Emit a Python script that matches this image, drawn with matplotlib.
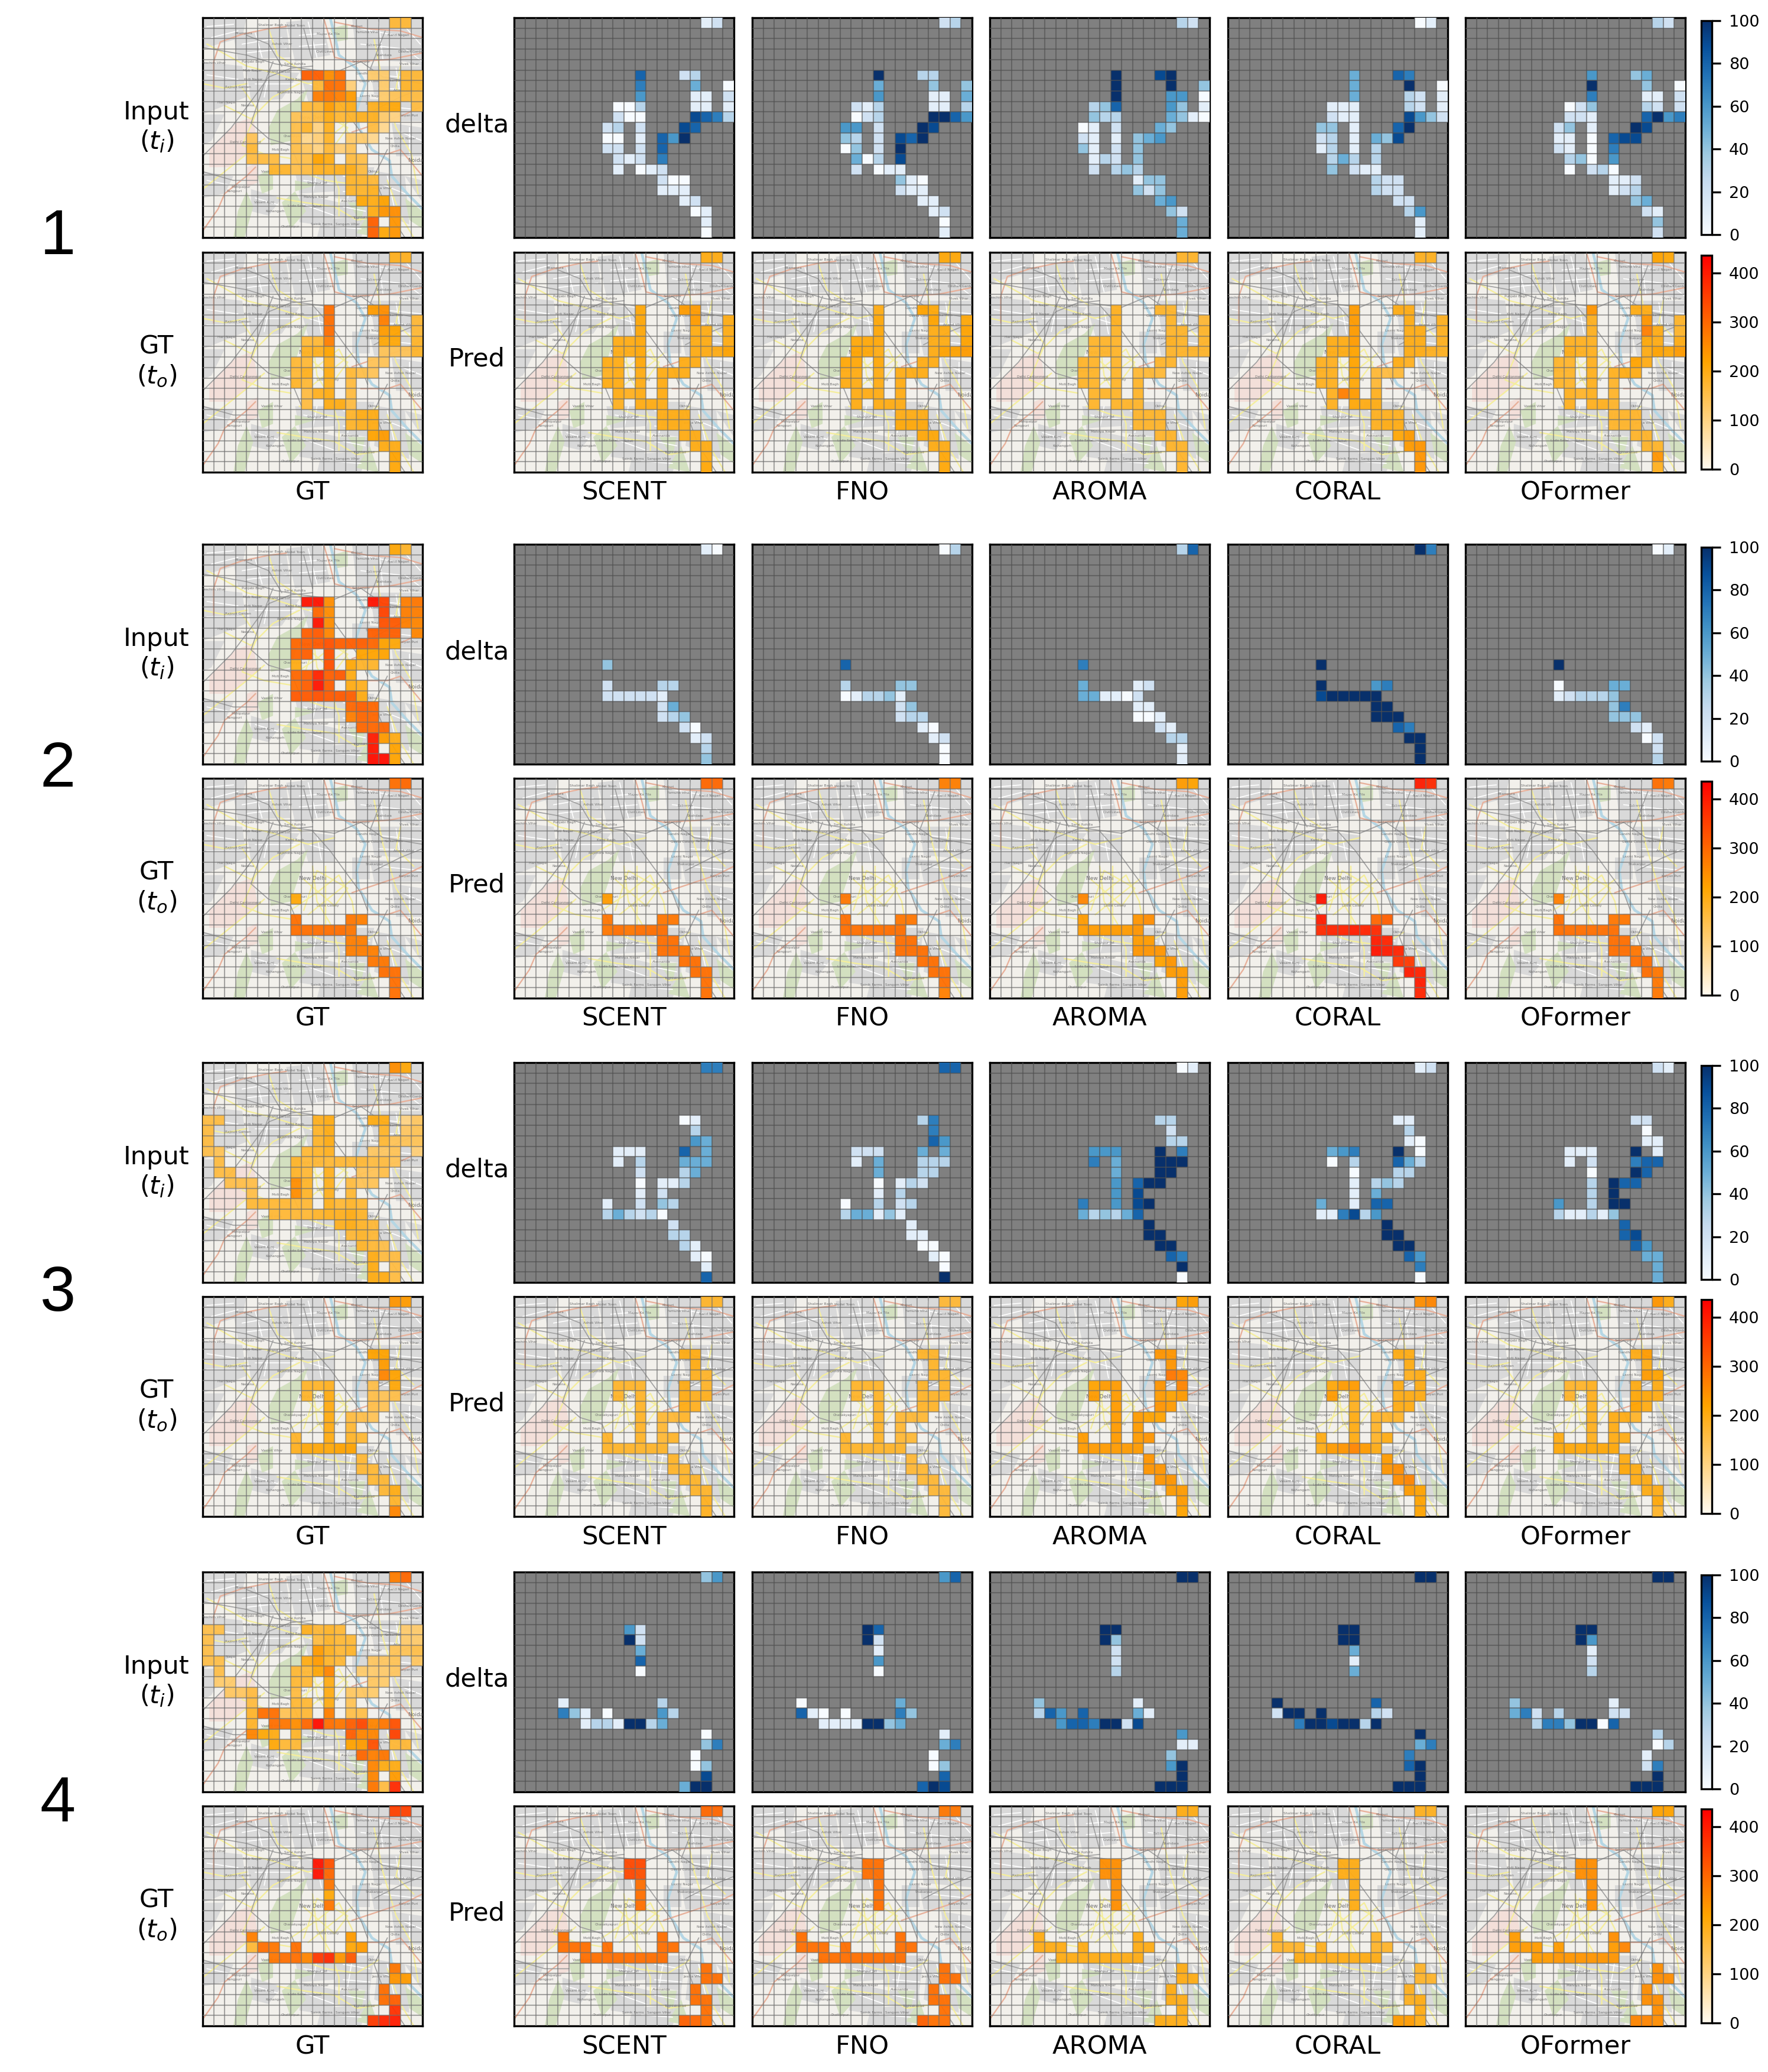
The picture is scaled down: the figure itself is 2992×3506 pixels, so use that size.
import numpy as np
import matplotlib
matplotlib.use("Agg")
import matplotlib.pyplot as plt
from matplotlib.colors import LinearSegmentedColormap, Normalize
from matplotlib.cm import ScalarMappable
from matplotlib.patches import Polygon

W, H = 2992, 3506
NROW, NCOL = 21, 20
METHODS = ["SCENT", "FNO", "AROMA", "CORAL", "OFormer"]

# cell codes: index in this string * 10 = traffic value
CODES = "0123456789abcdefghijklmnopqrstuvwxyzABCDEFGH"

# group 1
G1_INPUT = ["0 17:hh", "5 9:vvpt 15:cc 18:hh", "6 10:httb 16:c 18:ii", "7 10:rsrn 16:cegg",
            "8 9:hhnjk 15:jkl 19:g", "9 8:efgkhijjca", "10 8:fiaj 15:g9", "11 4:e 8:f9bi 13:cc9",
            "12 4:h 8:fdahbe", "13 4:ggg 8:ffmk 13:gf", "14 6:ii 8:fgjjjkg", "15 13:iih",
            "16 13:iij", "17 14:lkm", "18 15:kop", "19 15:v 17:o", "20 15:vlo"]
G1_GT = ["0 17:jj", "5 11:t 15:np", "6 11:t 16:r 19:h", "7 11:t 16:nm 19:h", "8 9:hhr 16:ll 19:i",
         "9 9:jjm 16:eeei", "10 8:hh 11:j 15:ee", "11 8:hj 11:k 13:hfe", "12 8:ih 11:j 13:g",
         "13 9:gjk 13:g", "14 9:g 11:kkg", "15 13:ikk", "16 13:ijk", "17 15:mn", "18 16:kk",
         "19 17:m", "20 17:l"]
G1_DELTA = ["12 823 750 6112 003111 2009873 23298 00186a 2228 2127 1012 200 111 12 01 1 0",
            "23 a33 544 6115 213113 023aa86 662a9 43298a 042a 5039 2011 410 211 11 12 0 1",
            "32 a9a aa4 a660 348641 4335410 01254 211456 4124 1324 2343 144 424 56 42 5 5",
            "01 587 5a0 5321 111321 2119642 4418a 231549 1313 3533 4211 322 322 22 36 1 1",
            "32 645 a40 7112 024322 2218a67 241a9 110899 2107 3406 0230 112 123 45 21 4 2"]
G1_PRED = ["kk lnn lnk lkkk kklkkk kklkkkm kklkk jkkkkk kkkk kjkk jkkk kkk kkk kk kk k l",
           "ll kml lml lkkm lllkkm mlkkmmn lllkk kkkkkk kkkk kkkk kkkk kkk lll ll kk l l",
           "ii jii jih iiii iiijii iiiiiii iiiii iiihhh iiii iiii iiii iii iii ii ii i i",
           "jj nkk nkj nkkj kknkkj kkmkkjj jjmkj jjmhgh jjlh jrnj jlkk jjj jkk ln no o o",
           "ml okk joi jrki jjjlkk kjjkmln iijmk iijjkk iiji jiji jjji iii iii ii ii o j"]

# group 2
G2_INPUT = ["0 17:li", "5 9:FFp 15:Fz 18:rs", "6 10:up 16:z 18:rr", "7 10:Fp 16:xw 18:rq",
            "8 9:vwq 15:vvv 19:q", "9 8:uvwxvvvuml", "10 8:uv 11:x 14:mmm", "11 8:k 11:x 13:lii",
            "12 8:uvDvwk", "13 8:tvFv 13:kj", "14 8:wwxwwvk", "15 13:uvu", "16 13:ruu",
            "17 14:uuu", "18 15:Enk", "19 15:F 17:m", "20 15:GGm"]
G2_GT = ["0 17:tu", "11 8:l", "13 8:t 13:sr", "14 8:ttttts", "15 13:rr", "16 13:rrr", "17 15:ss",
         "18 16:tt", "19 17:t", "20 17:t"]
G2_DELTA = ["10 4 233 222221 25 234 20 12 3 4",
            "03 8 344 013341 24 233 10 12 0 0",
            "38 7 512 551102 11 001 21 33 1 1",
            "a7 a a67 9aaaaa aa aaa 87 aa a a",
            "01 a 055 123334 47 444 21 02 2 3"]
G2_PRED = ["uu n sss ststtt tt tts tt tt t t",
           "rr s tss tttttt tt ttt tt tt t r",
           "nm q nop nnnnno nn ooo mo nn n n",
           "EC F Euv CDDEDC ED FED BA ED E D",
           "ts r tss tttttt tt tts tt ts s s"]

# group 3
G3_INPUT = ["0 17:pl", "5 0:gg 10:jk 15:kk 18:ad", "6 0:g 10:ik 16:i 18:de", "7 0:g 10:ik 16:heee",
            "8 0:fe 9:hij 15:dde 19:b", "9 1:g 8:ihhhhhhgge", "10 1:gg 8:ih 11:j 14:eef",
            "11 2:fff 8:pi 11:j 13:gee", "12 4:f 8:pi 11:j 13:h", "13 4:hhhhhh 11:jhih",
            "14 6:hhhhijjki", "15 12:jkih", "16 13:hih", "17 14:ihf", "18 15:kgg", "19 15:k 17:g",
            "20 15:kkg"]
G3_GT = ["0 17:on", "5 15:mm", "6 16:n", "7 16:qm", "8 9:iij 15:f 17:l", "9 9:i 11:k 15:fef",
         "10 11:k 15:fe", "11 11:k 13:gfe", "12 11:k 13:h", "13 8:i 11:k 13:ih", "14 8:jlllmm",
         "15 14:h", "16 14:hh", "17 15:hh", "18 16:hk", "19 17:i", "20 17:q"]
G3_DELTA = ["77 01 3 65 11185 13555 235 0113 12 1243 353230 2 33 31 10 1 8",
            "88 37 7 86 22255 15333 533 0132 13 0323 355141 1 11 00 10 0 a",
            "01 33 2 33 666a7 75aaa 5aa 68aa 69 769a 534358 a aa aa 87 a 0",
            "12 11 3 10 567a0 03853 033 1343 15 5188 117936 a aa aa 86 7 0",
            "21 22 0 11 111a1 12788 0a8 3a88 3a 63aa 311314 8 89 86 55 5 5"]
G3_PRED = ["ii kk k ji iiiki iikjj ikj ihhi ih iihi iiiiii i ii ii ii j j",
           "hh ii i ii iiiii iiiii iii ihhh ih iihh iiiiii h hh hh hh h h",
           "mn oo o sq mnnoq nnnmn non nnmm nn nnno nnnnnn o oo oo nn n m",
           "pq kk k jk lnnkk nkkkk jkk kiii ki kkik knoqnk n op pq nm m m",
           "ok kn k nm iijkk ijllk jmk jkki jk kjkk llllll k lk kk kk l i"]

# group 4
G4_INPUT = ["0 17:ru", "5 0:ff 9:jhih 18:cc", "6 0:f 10:gihh 18:cc", "7 0:f 10:njhi 17:eef",
            "8 0:ff 9:knih 15:dde 19:d", "9 1:f 8:hhlq 14:cccd", "10 1:cc 8:hh 11:k 15:dc",
            "11 2:ddg 8:g 11:k 13:ddc", "12 4:g 8:hh 11:k 13:e", "13 4:ittehh 11:r 13:ff",
            "14 4:i 6:tspuGtsvyqsx", "15 4:qlk 8:i 13:vqq 17:z", "16 6:lhh 13:mnx 17:hh",
            "17 14:urs", "18 15:qkk", "19 15:q 17:n", "20 15:sgC"]
G4_GT = ["0 17:zz", "5 10:Fx", "6 10:Fu", "7 11:s", "8 11:l", "9 11:s", "12 4:r 13:n",
         "13 4:hts 8:t 13:ln", "14 6:sttqACow", "15 17:s", "16 17:on", "17 16:t", "18 16:tv",
         "19 17:B", "20 15:ADE"]
G4_DELTA = ["46 62 a2 5 8 0 13 741063 1331aa35 0 47 0 04 9 5aa",
            "68 a8 a2 1 6 0 05 810074 1111aa45 1 57 0 04 8 8a9",
            "aa aa a4 2 2 3 41 386851 6887aa29 6 11 4 6a a aaa",
            "aa aa aa 5 1 5 a8 2aaa32 7aa9aa3a a 57 7 8a a aaa",
            "aa aa a6 1 2 3 41 572322 3774aa08 3 03 1 27 a aaa"]
G4_PRED = ["uu yy yx t t t tt tttttt tttttttt t tt t tt t vut",
           "ss tt tt t t t tt tttttt tttttttt t tt t tt t vtt",
           "kk pp pp p p p kk kkkkkk kkkkkkkk k kk k kk k kkk",
           "jj kk kk k k k ii iiijii kkkkkkkk i ii j jk k nnk",
           "mm pp pp p p p np nnnnnq nnoooooo p pp p pp p qqp"]

GROUPS = [(G1_INPUT, G1_GT, G1_DELTA, G1_PRED), (G2_INPUT, G2_GT, G2_DELTA, G2_PRED),
          (G3_INPUT, G3_GT, G3_DELTA, G3_PRED), (G4_INPUT, G4_GT, G4_DELTA, G4_PRED)]

# background map, fractions of the panel, y from the top
URBAN = [[(0, 0), (.2, 0), (.18, .09), (0, .14)], [(.14, .08), (.38, .04), (.4, .18), (.16, .19)],
         [(.38, .02), (.54, .0), (.58, .17), (.42, .2)], [(.68, 0), (.88, 0), (.92, .2), (.7, .19)],
         [(.88, 0), (1, 0), (1, .22), (.92, .2)], [(.76, .22), (1, .22), (1, .37), (.78, .35)],
         [(0, .2), (.18, .22), (.2, .36), (0, .44)], [(.2, .24), (.44, .25), (.36, .37), (.22, .38)],
         [(.44, .24), (.6, .26), (.6, .38), (.48, .38)], [(.76, .37), (1, .38), (1, .47), (.78, .47)],
         [(.86, .48), (1, .5), (1, .63), (.88, .63)], [(.42, .7), (.62, .7), (.6, .79), (.44, .8)],
         [(.62, .68), (.78, .68), (.76, .84), (.6, .82)], [(.8, .7), (.92, .72), (.94, .94), (.78, .88)],
         [(.44, .8), (.62, .84), (.58, .95), (.44, .93)], [(.54, .92), (.76, .9), (.72, 1), (.52, 1)],
         [(0, .7), (.14, .72), (.1, .8), (0, .82)], [(.68, .36), (.76, .36), (.76, .46), (.68, .46)],
         [(.62, .84), (.76, .84), (.76, .92), (.6, .9)], [(.0, .44), (.1, .44), (.04, .56), (0, .58)],
         [(.22, .78), (.36, .82), (.3, .9), (.22, .88)], [(.92, .72), (1, .74), (1, .84)]]
GREEN = [[(.3, .5), (.34, .42), (.43, .37), (.48, .32), (.44, .44), (.4, .56), (.31, .58)],
         [(.14, 1), (.16, .88), (.2, .79), (.23, .86), (.19, 1)],
         [(.36, .84), (.42, .79), (.47, .88), (.4, .96)], [(.25, .72), (.32, .68), (.32, .78), (.27, .8)],
         [(.58, .05), (.66, .03), (.66, .1), (.6, .11)], [(.7, .98), (.76, .88), (.8, 1)],
         [(.42, .74), (.52, .76), (.42, .79)], [(.66, .84), (.74, .84), (.72, .93)],
         [(.92, .82), (1, .88), (1, .96), (.94, .92)]]
PINK = [[(.03, .6), (.15, .48), (.23, .45), (.25, .58), (.12, .68), (.03, .68)],
        [(.2, .68), (.25, .66), (.25, .75), (.2, .77)]]
RIVER = [(.58, 0), (.6, .08), (.62, .17), (.7, .23), (.74, .3), (.7, .42), (.71, .5), (.77, .6),
         (.85, .65), (.86, .72), (.93, .8), (1, .87)]
ORANGE_ROADS = [[(.05, .32), (.05, .2), (.08, .11), (.18, .075), (.3, .05), (.38, .04)],
                [(0, .97), (.07, .87), (.1, .8), (.2, .72), (.24, .68)],
                [(.68, .52), (.8, .48), (.92, .44), (1, .4)],
                [(.55, 0), (.58, .1), (.6, .18), (.68, .2), (.85, .19), (1, .16)],
                [(.6, .02), (.75, .05), (.9, .06), (1, .09)],
                [(.72, .62), (.84, .62), (.9, .6), (1, .72)]]
YELLOW_ROADS = [[(.02, .12), (.2, .22), (.32, .25), (.48, .3), (.6, .27)],
                [(.18, .32), (.25, .42), (.18, .58), (.28, .62), (.4, .64)],
                [(.4, .6), (.52, .52), (.62, .44), (.68, .56), (.7, .68)],
                [(.44, .7), (.56, .74), (.7, .76), (.8, .7)],
                [(.34, .82), (.46, .84), (.6, .86), (.7, .92), (.84, .9)],
                [(.5, .4), (.52, .56), (.58, .66), (.62, .78), (.62, .9)],
                [(.78, .1), (.82, .3), (.88, .5), (.95, .62), (.98, .8)],
                [(0, .78), (.1, .7), (.2, .62), (.28, .55)],
                [(.9, .22), (.88, .32), (.96, .4)], [(.3, .05), (.34, .17), (.45, .24)],
                [(.46, .46), (.6, .58), (.66, .5), (.52, .42), (.46, .6)], [(.56, .4), (.56, .68)],
                [(.48, .62), (.68, .46)], [(.1, .4), (.22, .46), (.32, .36), (.44, .3)],
                [(0, .3), (.1, .32), (.2, .3)], [(.84, .74), (.9, .9), (.96, 1)]]
WHITE_ROADS = [[(.02, .04), (.14, .03)], [(.04, .09), (.16, .06)], [(.18, .12), (.36, .09)], [(.2, .16), (.38, .14)],
               [(.24, .07), (.27, .18)], [(.44, .08), (.56, .07)], [(.44, .13), (.56, .12)], [(.48, .02), (.52, .18)],
               [(.72, .05), (.88, .08)], [(.72, .12), (.9, .14)], [(.8, .02), (.82, .19)], [(.92, .04), (.99, .12)],
               [(.92, .14), (1, .2)], [(.8, .26), (1, .28)], [(.8, .32), (1, .33)], [(.88, .23), (.9, .36)],
               [(.02, .26), (.16, .28)], [(.02, .33), (.18, .33)], [(.1, .22), (.1, .4)], [(.24, .3), (.42, .3)],
               [(.3, .26), (.28, .36)], [(.48, .3), (.58, .33)], [(.52, .26), (.54, .37)], [(.8, .4), (1, .42)],
               [(.9, .52), (1, .56)], [(.94, .5), (.94, .62)], [(.46, .74), (.6, .76)], [(.52, .7), (.5, .8)],
               [(.64, .72), (.76, .74)], [(.68, .7), (.66, .82)], [(.64, .79), (.76, .8)], [(.82, .76), (.92, .8)],
               [(.84, .72), (.88, .9)], [(.46, .85), (.6, .9)], [(.5, .82), (.5, .94)], [(.58, .95), (.72, .96)],
               [(.02, .74), (.12, .76)], [(.64, .86), (.74, .88)], [(.24, .82), (.34, .85)]]
GREY_ROADS = [[(0, .63), (.13, .5), (.22, .38), (.3, .27), (.4, .23), (.5, .22)],
              [(0, .135), (.2, .17), (.33, .21), (.45, .23), (.6, .25)],
              [(.32, .2), (.28, .3), (.22, .48), (.3, .55), (.4, .58), (.45, .7)],
              [(.5, .24), (.58, .33), (.66, .44), (.72, .52), (.75, .6)],
              [(.6, .25), (.72, .2), (.82, .27), (1, .3)], [(.78, .42), (.9, .36), (1, .32)],
              [(.2, .08), (.3, .12), (.36, .22)], [(.46, .05), (.5, .2)], [(.83, .06), (.76, .24)],
              [(.84, .6), (.78, .72), (.84, .88), (.92, 1)], [(0, .7), (.14, .74), (.25, .74)]]
PLACES = [("Shalimar Bagh", .31, .033), ("Model Town", .42, .035), ("Khajuri", .70, .04), ("Pitampura", .185, .07),
          ("Majnu Ka Tila", .57, .075), ("Yamuna Vihar", .75, .065), ("Nand Nagari", .89, .08), ("Ashok Vihar", .36, .12),
          ("Babarpur", .78, .125), ("Civil Lines", .555, .155), ("Shahdara", .825, .17), ("Dilshad Garden", .95, .155),
          ("Paschim Vihar", .05, .205), ("Punjabi Bagh", .23, .2), ("Sarai Rohilla", .42, .21), ("Seelampur", .72, .2),
          ("Vivek Vihar", .94, .21), ("Moti Nagar", .225, .24), ("Anand Parbat", .345, .245), ("Gandhi Nagar", .75, .255),
          ("Kirti Nagar", .23, .28), ("Karol Bagh", .42, .28), ("Geeta Colony", .765, .29), ("Karkardum", .87, .285),
          ("Rajouri Garden", .16, .315), ("Rajendra Nagar", .40, .34), ("Laxmi Nagar", .765, .355), ("Anand Vihar", .915, .33),
          ("Hari Nagar", .11, .385), ("Naraina", .205, .40), ("Shakarpur", .78, .39), ("Kalyan Puri", .935, .445),
          ("Chanakyapuri", .42, .54), ("New Ashok Nagar", .90, .55), ("Delhi Cantonment", .195, .565), ("Moti Bagh", .355, .60),
          ("Lodhi Colony", .57, .58), ("Chilla", .875, .585), ("Vasant Vihar", .315, .70), ("Shahpur Jat", .52, .75),
          ("Mahipalpur", .175, .77), ("Rangpuri", .145, .79), ("Okhla", .775, .70), ("Jasola Vihar", .815, .775),
          ("Malviya Nagar", .515, .815), ("Alaknanda", .67, .835), ("Vasant Kunj", .28, .84), ("Lado Sarai", .43, .855),
          ("Saket", .52, .86), ("Kishangarh", .33, .88), ("Tughlakabad", .735, .91), ("Sainik Farms", .54, .94),
          ("Sangam Vihar", .66, .94), ("Chattarpur", .40, .95)]


def cells(spec):
    out = []
    for line in spec:
        parts = line.split()
        r = int(parts[0])
        for p in parts[1:]:
            c, codes = p.split(":")
            for i, ch in enumerate(codes):
                out.append((r, int(c) + i, CODES.index(ch) * 10))
    return out


def to_grid(cl):
    g = np.full((NROW, NCOL), np.nan)
    for r, c, v in cl:
        g[r, c] = v
    return np.ma.masked_invalid(g)


def from_order(gt, codes):
    vals = codes.replace(" ", "")
    assert len(vals) == len(gt), (codes, len(vals), len(gt))
    return to_grid([(r, c, CODES.index(ch) * 10) for (r, c, _), ch in zip(gt, vals)])


def panel(fig, x0, y0, x1, y1):
    return fig.add_axes([x0 / W, 1 - y1 / H, (x1 - x0) / W, (y1 - y0) / H])


def draw_map(ax):
    ax.set_facecolor("#f2f0eb")
    for poly in PINK:
        ax.add_patch(Polygon(np.array(poly) * [NCOL, NROW], fc="#f3dfd9", ec="none"))
    for poly in URBAN:
        ax.add_patch(Polygon(np.array(poly) * [NCOL, NROW], fc="#d9d9d9", ec="none"))
    for poly in GREEN:
        ax.add_patch(Polygon(np.array(poly) * [NCOL, NROW], fc="#d3e0c0", ec="none"))
    line = np.array(RIVER) * [NCOL, NROW]
    ax.plot(line[:, 0], line[:, 1], color="#b5d6e4", lw=1.1)
    for group, col, lw in ((WHITE_ROADS, "#ffffff", .4), (YELLOW_ROADS, "#f5ee9c", .55),
                           (ORANGE_ROADS, "#e8b09a", .55), (GREY_ROADS, "#a0a0a0", .4)):
        for road in group:
            line = np.array(road) * [NCOL, NROW]
            ax.plot(line[:, 0], line[:, 1], color=col, lw=lw)
    for name, fx, fy in PLACES:
        ax.text(fx * NCOL, fy * NROW, name, fontsize=1.4, color="#707070", ha="center", va="center", clip_on=True)
    ax.text(.5 * NCOL, .455 * NROW, "New Delhi", fontsize=2.2, color="#707070", ha="center", va="center")
    ax.text(.97 * NCOL, .65 * NROW, "Noida", fontsize=2.2, color="#707070", ha="center", va="center", clip_on=True)


def finish(ax, col, alpha):
    ax.vlines(np.arange(1, NCOL), 0, NROW, color=col, lw=.5, alpha=alpha, zorder=5)
    ax.hlines(np.arange(1, NROW), 0, NCOL, color=col, lw=.5, alpha=alpha, zorder=5)
    ax.set_xlim(0, NCOL)
    ax.set_ylim(NROW, 0)
    ax.set_xticks([])
    ax.set_yticks([])


heat = LinearSegmentedColormap.from_list("heat", ["floralwhite", "orange", "red"])
heat_norm = Normalize(0, 436)
blue_norm = Normalize(0, 100)


def heat_panel(fig, box, grid):
    ax = panel(fig, *box)
    draw_map(ax)
    ax.pcolormesh(np.arange(NCOL + 1), np.arange(NROW + 1), grid, cmap=heat, norm=heat_norm, alpha=.95, zorder=4)
    finish(ax, "#707070", .6)
    return ax


def delta_panel(fig, box, grid):
    ax = panel(fig, *box)
    ax.set_facecolor("#808080")
    ax.pcolormesh(np.arange(NCOL + 1), np.arange(NROW + 1), grid, cmap="Blues", norm=blue_norm, zorder=4)
    finish(ax, "#505050", .6)
    return ax


fig = plt.figure(figsize=(W / 300, H / 300), dpi=300)
plt.rcParams["font.size"] = 10

DELTA_TOPS = [30, 921, 1798, 2660]
PRED_TOPS = [427, 1317, 2194, 3056]
DIGIT_Y = [402, 1303, 2190, 3054]
COL_X = [870, 1273, 1675, 2078, 2480]
SIZE = 372
FS = 10.4

for k, (inp, gt, deltas, preds) in enumerate(GROUPS):
    t1, t2 = DELTA_TOPS[k], PRED_TOPS[k]
    gt_cells = cells(gt)
    heat_panel(fig, (343, t1, 343 + SIZE, t1 + SIZE), to_grid(cells(inp)))
    heat_panel(fig, (343, t2, 343 + SIZE, t2 + SIZE), to_grid(gt_cells))
    fig.text(265 / W, 1 - (t1 + 185) / H, "Input\n$(t_i)$", fontsize=FS, ha="center", va="center")
    fig.text(265 / W, 1 - (t2 + 185) / H, "GT\n$(t_o)$", fontsize=FS, ha="center", va="center")
    fig.text(807 / W, 1 - (t1 + 182) / H, "delta", fontsize=FS, ha="center", va="center")
    fig.text(807 / W, 1 - (t2 + 181) / H, "Pred", fontsize=FS, ha="center", va="center")
    fig.text(529 / W, 1 - (t2 + SIZE + 35) / H, "GT", fontsize=FS, ha="center", va="center")
    fig.text(98 / W, 1 - DIGIT_Y[k] / H, str(k + 1), fontsize=26, family="Liberation Sans", ha="center", va="center")
    for j, name in enumerate(METHODS):
        x = COL_X[j]
        delta_panel(fig, (x, t1, x + SIZE, t1 + SIZE), from_order(gt_cells, deltas[j]))
        heat_panel(fig, (x, t2, x + SIZE, t2 + SIZE), from_order(gt_cells, preds[j]))
        fig.text((x + SIZE / 2) / W, 1 - (t2 + SIZE + 35) / H, name, fontsize=FS, ha="center", va="center")
    cax = panel(fig, 2879, t1 + 5, 2897, t1 + 367)
    cb = fig.colorbar(ScalarMappable(blue_norm, "Blues"), cax=cax, ticks=[0, 20, 40, 60, 80, 100])
    cb.ax.tick_params(labelsize=6.5)
    cax = panel(fig, 2879, t2 + 5, 2897, t2 + 367)
    cb = fig.colorbar(ScalarMappable(heat_norm, heat), cax=cax, ticks=[0, 100, 200, 300, 400])
    cb.ax.tick_params(labelsize=6.5)

fig.savefig("out.png", dpi=300)
